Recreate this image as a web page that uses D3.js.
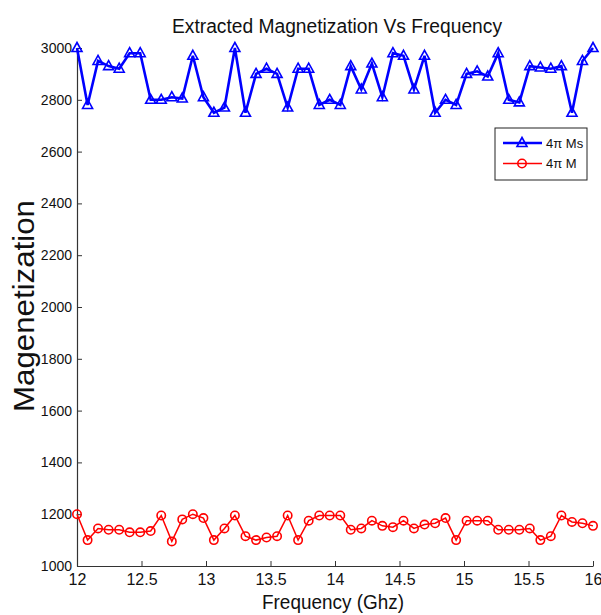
<!DOCTYPE html>
<html>
<head>
<meta charset="utf-8">
<script src="https://cdn.jsdelivr.net/npm/d3@7"></script>
<style>
  body { margin: 0; background: #fff; }
  svg text { font-family: "Liberation Sans Narrow", "Arial Narrow", "Liberation Sans", Arial, sans-serif; fill: #111; }
</style>
</head>
<body>
<div id="chart"></div>
<script>
// frequency points (GHz), 50 samples from 12 to 16
const freqs = [12.000, 12.082, 12.163, 12.245, 12.327, 12.408, 12.490, 12.571, 12.653, 12.735,
  12.816, 12.898, 12.980, 13.061, 13.143, 13.224, 13.306, 13.388, 13.469, 13.551,
  13.633, 13.714, 13.796, 13.878, 13.959, 14.041, 14.122, 14.204, 14.286, 14.367,
  14.449, 14.531, 14.612, 14.694, 14.776, 14.857, 14.939, 15.020, 15.102, 15.184,
  15.265, 15.347, 15.429, 15.510, 15.592, 15.673, 15.755, 15.837, 15.918, 16.000];

const ms = [3000, 2780, 2950, 2930, 2920, 2980, 2980, 2800, 2800, 2810,
  2805, 2970, 2810, 2750, 2770, 3000, 2750, 2900, 2920, 2900,
  2770, 2920, 2920, 2780, 2800, 2780, 2930, 2840, 2940, 2810,
  2980, 2970, 2840, 2970, 2750, 2800, 2780, 2900, 2910, 2890,
  2980, 2800, 2790, 2930, 2925, 2920, 2930, 2750, 2950, 3000];

const m = [1200, 1100, 1145, 1140, 1140, 1130, 1130, 1135, 1195, 1095,
  1180, 1200, 1185, 1100, 1145, 1195, 1115, 1100, 1110, 1115,
  1195, 1100, 1175, 1195, 1195, 1195, 1140, 1145, 1175, 1155,
  1150, 1175, 1145, 1160, 1165, 1185, 1100, 1175, 1175, 1175,
  1140, 1140, 1140, 1145, 1100, 1115, 1195, 1170, 1165, 1155];

const xTicks = [12, 12.5, 13, 13.5, 14, 14.5, 15, 15.5, 16];
const yTicks = [1000, 1200, 1400, 1600, 1800, 2000, 2200, 2400, 2600, 2800, 3000];

const width = 601, height = 615;
const margin = { top: 48, right: 8, bottom: 49, left: 77 };

const svg = d3.select("#chart").append("svg")
  .attr("width", width)
  .attr("height", height);

const x = d3.scaleLinear().domain([12, 16]).range([margin.left, width - margin.right]);
const y = d3.scaleLinear().domain([1000, 3000]).range([height - margin.bottom, margin.top]);

// axes, ticks point inward like matlab
const xAxis = svg.append("g")
  .attr("transform", `translate(0,${height - margin.bottom})`)
  .call(d3.axisBottom(x).tickValues(xTicks).tickSize(-5).tickSizeOuter(0).tickPadding(8)
    .tickFormat(d3.format("")));
xAxis.selectAll("text").attr("font-size", 16);

const yAxis = svg.append("g")
  .attr("transform", `translate(${margin.left},0)`)
  .call(d3.axisLeft(y).tickValues(yTicks).tickSize(-5).tickSizeOuter(0).tickPadding(5)
    .tickFormat(d3.format("")));
yAxis.selectAll("text").attr("font-size", 14);

svg.selectAll(".domain").attr("stroke", "#333").attr("stroke-width", 1.2);
svg.selectAll(".tick line").attr("stroke", "#333");

const msData = freqs.map((f, i) => ({ f, v: ms[i] }));
const mData = freqs.map((f, i) => ({ f, v: m[i] }));

const line = d3.line().x(d => x(d.f)).y(d => y(d.v));

svg.append("path")
  .datum(msData)
  .attr("fill", "none")
  .attr("stroke", "#0000ff")
  .attr("stroke-width", 2.6)
  .attr("d", line);

svg.append("path")
  .datum(mData)
  .attr("fill", "none")
  .attr("stroke", "#ff0000")
  .attr("stroke-width", 1.5)
  .attr("d", line);

const tri = "M0,-5.5L5,3.5L-5,3.5Z";

svg.append("g")
  .selectAll("path")
  .data(msData)
  .join("path")
  .attr("d", tri)
  .attr("transform", d => `translate(${x(d.f)},${y(d.v)})`)
  .attr("fill", "none")
  .attr("stroke", "#0000ff")
  .attr("stroke-width", 1.6);

svg.append("g")
  .selectAll("circle")
  .data(mData)
  .join("circle")
  .attr("cx", d => x(d.f))
  .attr("cy", d => y(d.v))
  .attr("r", 4.2)
  .attr("fill", "none")
  .attr("stroke", "#ff0000")
  .attr("stroke-width", 1.6);

// title and labels
svg.append("text")
  .attr("x", 337).attr("y", 33)
  .attr("text-anchor", "middle")
  .attr("font-size", 20)
  .attr("textLength", 330)
  .attr("lengthAdjust", "spacingAndGlyphs")
  .text("Extracted Magnetization Vs Frequency");

svg.append("text")
  .attr("x", 333).attr("y", 609)
  .attr("text-anchor", "middle")
  .attr("font-size", 21)
  .attr("textLength", 142)
  .attr("lengthAdjust", "spacingAndGlyphs")
  .text("Frequency (Ghz)");

svg.append("text")
  .attr("transform", "translate(34,306) rotate(-90)")
  .attr("text-anchor", "middle")
  .attr("font-size", 29)
  .attr("textLength", 212)
  .attr("lengthAdjust", "spacingAndGlyphs")
  .text("Magenetization");

// legend
const legend = svg.append("g").attr("transform", "translate(495,128)");
legend.append("rect")
  .attr("width", 92).attr("height", 52)
  .attr("fill", "#fff")
  .attr("stroke", "#222")
  .attr("stroke-width", 1);

const items = [
  { name: "4π Ms", color: "#0000ff", width: 2.6 },
  { name: "4π M", color: "#ff0000", width: 1.5 }
];

items.forEach((d, i) => {
  const gy = 15 + i * 20.5;
  legend.append("line")
    .attr("x1", 8).attr("x2", 47)
    .attr("y1", gy).attr("y2", gy)
    .attr("stroke", d.color)
    .attr("stroke-width", d.width);
  if (i === 0) {
    legend.append("path")
      .attr("d", tri)
      .attr("transform", `translate(27,${gy})`)
      .attr("fill", "none")
      .attr("stroke", d.color)
      .attr("stroke-width", 1.6);
  } else {
    legend.append("circle")
      .attr("cx", 27).attr("cy", gy).attr("r", 4.2)
      .attr("fill", "none")
      .attr("stroke", d.color)
      .attr("stroke-width", 1.6);
  }
  legend.append("text")
    .attr("x", 51).attr("y", gy + 4.5)
    .attr("font-size", 13)
    .text(d.name);
});
</script>
</body>
</html>
